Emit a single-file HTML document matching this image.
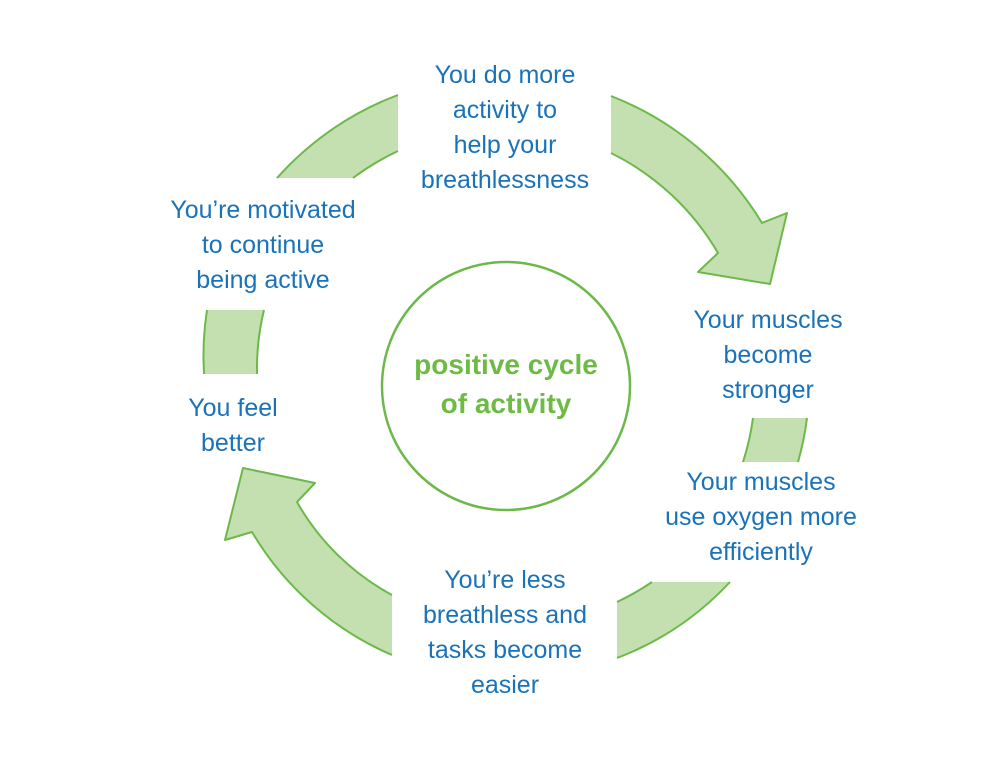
<!DOCTYPE html>
<html><head><meta charset="utf-8"><style>
html,body{margin:0;padding:0;background:#fff;}
#c{position:relative;width:1000px;height:768px;overflow:hidden;font-family:"Liberation Sans",sans-serif;}
.t{position:absolute;text-align:center;color:#1a72b8;font-size:25px;line-height:35px;white-space:nowrap;transform:translateX(-50%);}
.g{position:absolute;text-align:center;color:#6dbb45;font-size:28px;font-weight:bold;line-height:39px;white-space:nowrap;transform:translateX(-50%);}
</style></head><body><div id="c">
<svg width="1000" height="768" style="position:absolute;left:0;top:0">
<g fill="#c5e0b0" stroke="none">
<path d="M277,178 A306,306 0 0 1 398,95 L398,151 A254,254 0 0 0 353,178 Z"/>
<path d="M204,374 A300,300 0 0 1 207,310 L264,310 A250,250 0 0 0 257,374 Z"/>
<path d="M807,418 A300,300 0 0 1 798,462 L743,462 A250,250 0 0 0 753,418 Z"/>
<path d="M730,582 A300,300 0 0 1 617,658 L617,602 A250,250 0 0 0 652,582 Z"/>
</g>
<g fill="none" stroke="#6cb94a" stroke-width="2">
<path d="M277,178 A306,306 0 0 1 398,95"/><path d="M398,151 A254,254 0 0 0 353,178"/>
<path d="M204,374 A300,300 0 0 1 207,310"/><path d="M264,310 A250,250 0 0 0 257,374"/>
<path d="M807,418 A300,300 0 0 1 798,462"/><path d="M743,462 A250,250 0 0 0 753,418"/>
<path d="M730,582 A300,300 0 0 1 617,658"/><path d="M617,602 A250,250 0 0 0 652,582"/>
</g>
<g fill="#c5e0b0" stroke="#6cb94a" stroke-width="2" stroke-linejoin="round">
<path d="M611,96 A306,306 0 0 1 762,223 L787,213 L770,284 L698,272 L718,253 A254,254 0 0 0 611,153"/>
<path d="M392,655 A300,300 0 0 1 252,532 L225,540 L243,468 L315,483 L297,502 A240,240 0 0 0 392,595"/>
</g>
<circle cx="506" cy="386" r="124" fill="none" stroke="#6cb94a" stroke-width="2.5"/>
</svg>
<div class="t" style="left:505px;top:58px">You do more<br>activity to<br>help your<br>breathlessness</div>
<div class="t" style="left:263px;top:193px">You’re motivated<br>to continue<br>being active</div>
<div class="t" style="left:233px;top:391px">You feel<br>better</div>
<div class="t" style="left:768px;top:303px">Your muscles<br>become<br>stronger</div>
<div class="t" style="left:761px;top:465px">Your muscles<br>use oxygen more<br>efficiently</div>
<div class="t" style="left:505px;top:563px">You’re less<br>breathless and<br>tasks become<br>easier</div>
<div class="g" style="left:506px;top:345px">positive cycle<br>of activity</div>
</div></body></html>
